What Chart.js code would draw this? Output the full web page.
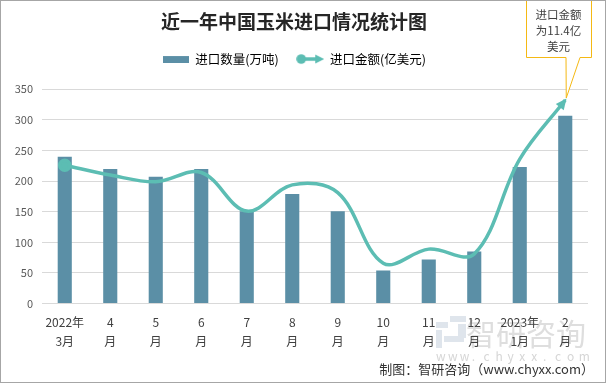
<!DOCTYPE html>
<html>
<head>
<meta charset="utf-8">
<script src="https://cdn.jsdelivr.net/npm/chart.js@4.4.1/dist/chart.umd.min.js"></script>
<style>
  html, body { margin: 0; padding: 0; background: #fff; }
  canvas { display: block; }
</style>
</head>
<body>
<canvas id="cornChart" width="606" height="383"></canvas>
<script>
// categories (month labels, two lines each)
var months = [['2022年', '3月'], ['4', '月'], ['5', '月'], ['6', '月'], ['7', '月'], ['8', '月'],
              ['9', '月'], ['10', '月'], ['11', '月'], ['12', '月'], ['2023年', '1月'], ['2', '月']];
// import volume (10k tons)
var importVolume = [240, 220, 207, 220, 151, 179, 151, 54, 72, 85, 223, 307];
// import value (100 million USD), on hidden right axis
var importValue = [7.75, 7.2, 6.82, 7.34, 5.18, 6.65, 6.21, 2.26, 3.05, 2.78, 8.09, 11.4];
// axis settings
var volumeMax = 350, volumeStep = 50;
var valueMax = 12;

var barColor = '#5b8fa6';
var lineColor = '#5cbdb3';
var font = '"Noto Sans CJK SC", "Noto Sans", sans-serif';

// legend symbols
function makeBarSwatch() {
  var c = document.createElement('canvas');
  c.width = 26; c.height = 8;
  var g = c.getContext('2d');
  g.fillStyle = barColor;
  g.fillRect(0, 1, 26, 7);
  return c;
}
function makeLineSwatch() {
  var c = document.createElement('canvas');
  c.width = 28; c.height = 12;
  var g = c.getContext('2d');
  g.strokeStyle = lineColor; g.fillStyle = lineColor; g.lineWidth = 3.5;
  g.beginPath(); g.moveTo(5, 6); g.lineTo(21, 6); g.stroke();
  g.beginPath(); g.arc(5, 6, 4.8, 0, Math.PI * 2); g.fill();
  g.beginPath(); g.moveTo(28, 6); g.lineTo(19, 1.5); g.lineTo(19, 10.5); g.closePath(); g.fill();
  return c;
}

var decor = {
  id: 'decor',
  beforeDraw: function (chart) {
    var ctx = chart.ctx;
    ctx.save();
    ctx.fillStyle = '#fff';
    ctx.fillRect(0, 0, chart.width, chart.height);
    // watermark
    ctx.fillStyle = '#dfe5ec';
    ctx.fillRect(436, 322, 12, 6);
    ctx.fillRect(450, 316, 16, 6);
    ctx.fillRect(436, 330, 6, 18);
    ctx.fillRect(444, 336, 20, 6);
    ctx.fillRect(458, 324, 8, 14);
    ctx.fillStyle = '#dedede';
    ctx.font = '30px ' + font;
    ctx.textBaseline = 'middle';
    ctx.fillText('智研咨询', 466, 334);
    ctx.font = '12px ' + font;
    ctx.fillStyle = '#d6d6d6';
    var w = 'www.chyxx.com'.split('');
    for (var i = 0; i < w.length; i++) {
      ctx.fillText(w[i], 436 + i * 11.9, 356);
    }
    ctx.restore();
  },
  afterDatasetsDraw: function (chart) {
    // arrow at the end of the value line
    var meta = chart.getDatasetMeta(1);
    var pts = meta.data;
    var last = pts[pts.length - 1];
    var ang = Math.atan2(last.y - last.cp1y, last.x - last.cp1x);
    var ctx = chart.ctx;
    ctx.save();
    ctx.fillStyle = lineColor;
    ctx.translate(last.x, last.y);
    ctx.rotate(ang);
    ctx.beginPath();
    ctx.moveTo(2, 0);
    ctx.lineTo(-9, -5);
    ctx.lineTo(-9, 5);
    ctx.closePath();
    ctx.fill();
    ctx.restore();
  },
  afterDraw: function (chart) {
    var ctx = chart.ctx;
    var pts = chart.getDatasetMeta(1).data;
    var tip = pts[pts.length - 1];
    ctx.save();
    // callout box
    ctx.beginPath();
    ctx.moveTo(526.5, -1);
    ctx.lineTo(591.5, -1);
    ctx.lineTo(591.5, 57.5);
    ctx.lineTo(580, 57.5);
    ctx.lineTo(tip.x + 1, tip.y - 2);
    ctx.lineTo(566, 57.5);
    ctx.lineTo(526.5, 57.5);
    ctx.closePath();
    ctx.fillStyle = '#fff';
    ctx.fill();
    ctx.strokeStyle = '#f5b914';
    ctx.lineWidth = 1;
    ctx.stroke();
    ctx.fillStyle = '#404040';
    ctx.font = '11.5px ' + font;
    ctx.textAlign = 'center';
    ctx.textBaseline = 'middle';
    ctx.fillText('进口金额', 558.5, 15);
    ctx.fillText('为11.4亿', 558.5, 31);
    ctx.fillText('美元', 558.5, 47);
    // source note
    ctx.textAlign = 'right';
    ctx.fillStyle = '#333';
    ctx.font = '13px ' + font;
    ctx.fillText('制图：智研咨询（www.chyxx.com）', 594, 369);
    // outer border
    ctx.strokeStyle = '#a6a6a6';
    ctx.strokeRect(0.5, 0.5, chart.width - 1, chart.height - 1);
    ctx.restore();
  }
};

var ctx = document.getElementById('cornChart').getContext('2d');
var cornChart = new Chart(ctx, {
  type: 'bar',
  data: {
    labels: months,
    datasets: [{
      label: '进口数量(万吨)',
      data: importVolume,
      backgroundColor: barColor,
      barPercentage: 0.31,
      categoryPercentage: 1,
      xAxisID: 'x',
      yAxisID: 'y',
      order: 1
    }, {
      type: 'line',
      label: '进口金额(亿美元)',
      data: importValue,
      borderColor: lineColor,
      backgroundColor: lineColor,
      borderWidth: 3.5,
      tension: 0.36,
      pointRadius: importValue.map(function (v, i) { return i === 0 ? 5 : 0; }),
      pointHoverRadius: 0,
      xAxisID: 'x',
      yAxisID: 'y1',
      order: 0
    }]
  },
  options: {
    responsive: false,
    devicePixelRatio: 1,
    animation: false,
    layout: { padding: { top: 10, left: 0, right: 18, bottom: 31 } },
    plugins: {
      title: {
        display: true,
        text: '近一年中国玉米进口情况统计图',
        color: '#262626',
        font: { family: font, size: 19, weight: 'bold' },
        padding: { top: 0, bottom: 2 }
      },
      legend: {
        labels: {
          usePointStyle: true,
          pointStyleWidth: 27,
          padding: 18,
          color: '#404040',
          font: { family: font, size: 12.5 },
          generateLabels: function () {
            return [
              { text: '进口数量(万吨)', pointStyle: makeBarSwatch(), datasetIndex: 0, lineWidth: 0 },
              { text: '进口金额(亿美元)', pointStyle: makeLineSwatch(), datasetIndex: 1, lineWidth: 0 }
            ];
          }
        }
      },
      tooltip: { enabled: false }
    },
    scales: {
      x: {
        grid: { display: false },
        border: { display: false },
        ticks: {
          color: '#404040',
          font: { family: font, size: 12, lineHeight: 1.6 },
          padding: 1,
          maxRotation: 0,
          autoSkip: false
        }
      },
      // empty top axis, only used as a gap under the legend
      xTop: {
        type: 'category',
        position: 'top',
        grid: { display: false },
        border: { display: false },
        ticks: { display: false },
        afterFit: function (axis) { axis.height = 14; }
      },
      y: {
        min: 0,
        max: volumeMax,
        afterFit: function (axis) { axis.width = 42; },
        ticks: {
          stepSize: volumeStep,
          color: '#595959',
          font: { family: font, size: 11 },
          padding: 9
        },
        grid: { color: '#d9d9d9', drawTicks: false },
        border: { display: false }
      },
      y1: {
        display: false,
        min: 0,
        max: valueMax
      }
    }
  },
  plugins: [decor]
});
</script>
</body>
</html>
